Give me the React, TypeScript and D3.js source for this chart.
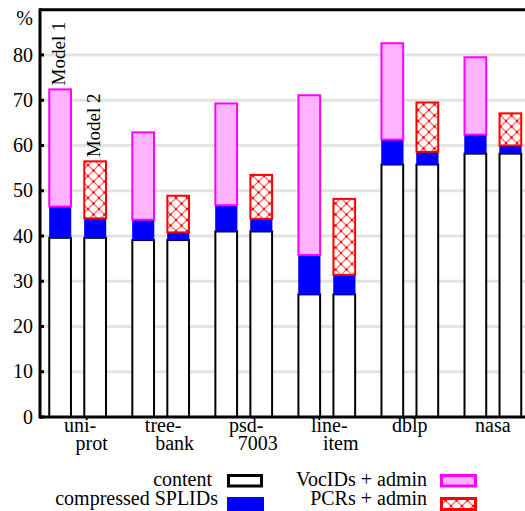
import React from 'react';
import * as d3 from 'd3';

const width = 525;
const height = 511;
const margin = { top: 10, left: 40, bottom: 417 };

const categories = ['uniprot', 'treebank', 'psd7003', 'lineitem', 'dblp', 'nasa'];
const categoryLabels = [['uni-', 'prot'], ['tree-', 'bank'], ['psd-', '7003'], ['line-', 'item'], ['dblp'], ['nasa']];
const models = ['Model 1', 'Model 2'];

// segment heights in %
const content = [39.6, 39.1, 41.0, 27.1, 55.8, 58.2];
const splidsModel1 = [6.9, 4.5, 5.8, 8.7, 5.5, 4.2];
const vocIds = [25.9, 19.3, 22.5, 35.3, 21.3, 17.1];
const splidsModel2 = [4.3, 1.7, 2.8, 4.3, 2.8, 1.8];
const pcrs = [12.6, 8.1, 9.7, 16.8, 10.9, 7.1];

const yTicks = [0, 10, 20, 30, 40, 50, 60, 70, 80];

const font = '"Liberation Serif", "Times New Roman", serif';

const styles = {
  content: { fill: '#ffffff', stroke: '#000000' },
  splids: { fill: '#0000ff', stroke: '#0000ff' },
  vocids: { fill: '#ffb3ff', stroke: '#ff00ff' },
  pcrs: { fill: 'url(#hatch)', stroke: '#ff0000' }
};

const rows1 = categories.map((c, i) => ({ cat: c, content: content[i], splids: splidsModel1[i], top: vocIds[i] }));
const rows2 = categories.map((c, i) => ({ cat: c, content: content[i], splids: splidsModel2[i], top: pcrs[i] }));

export default function App() {
  const x = d3.scaleBand().domain(categories).range([36.1, 534.4]);
  const inner = d3
    .scaleBand()
    .domain(models)
    .range([0, x.bandwidth()])
    .paddingInner(0.38)
    .paddingOuter(0.376);
  const y = d3.scaleLinear().domain([0, 90]).range([margin.bottom, 9.75]);

  const stack = d3.stack().keys(['content', 'splids', 'top']);
  const series = [
    { model: models[0], layers: stack(rows1 as any), topStyle: styles.vocids },
    { model: models[1], layers: stack(rows2 as any), topStyle: styles.pcrs }
  ];
  const layerStyle = (k: string, top: any) => (k === 'content' ? styles.content : k === 'splids' ? styles.splids : top);

  return (
    <svg width={width} height={height} style={{ position: 'absolute', left: 0, top: 0, fontFamily: font }}>
      <defs>
        <pattern id="hatch" patternUnits="userSpaceOnUse" width="11" height="11">
          <rect width="11" height="11" fill="#ffffff" />
          <path d="M0,0L11,11M11,0L0,11" stroke="#ff7070" strokeWidth="1.3" />
          <circle cx="5.5" cy="5.5" r="1.2" fill="#ff0000" />
          <circle cx="0" cy="0" r="1.2" fill="#ff0000" />
          <circle cx="11" cy="0" r="1.2" fill="#ff0000" />
          <circle cx="0" cy="11" r="1.2" fill="#ff0000" />
          <circle cx="11" cy="11" r="1.2" fill="#ff0000" />
        </pattern>
      </defs>

      {yTicks.slice(1).map(t => (
        <line key={'g' + t} x1={margin.left} x2={width} y1={y(t)} y2={y(t)} stroke="#e3e3e3" strokeWidth={3} />
      ))}

      {series.map(s =>
        s.layers.map(layer =>
          layer.map((d: any, i: number) => {
            const st = layerStyle(layer.key, s.topStyle);
            return (
              <rect
                key={s.model + layer.key + i}
                x={x(categories[i])! + inner(s.model)!}
                y={y(d[1])}
                width={inner.bandwidth()}
                height={y(d[0]) - y(d[1])}
                fill={st.fill}
                stroke={st.stroke}
                strokeWidth={layer.key === 'splids' ? 0.5 : 2}
              />
            );
          })
        )
      )}

      {/* model labels over the first group */}
      {series.map(s => {
        const top = s.layers[2][0][1];
        const cx = x(categories[0])! + inner(s.model)! + inner.bandwidth() / 2 + 4.5;
        const by = y(top) - 4;
        return (
          <text key={'m' + s.model} transform={`translate(${cx},${by}) rotate(-90)`} fontSize={19} fill="#000">
            {s.model}
          </text>
        );
      })}

      {/* frame */}
      <line x1={margin.left} x2={width} y1={y(90)} y2={y(90)} stroke="#000" strokeWidth={3} />
      <line x1={margin.left} x2={margin.left} y1={y(90) - 1.5} y2={margin.bottom + 1.5} stroke="#000" strokeWidth={3} />
      <line x1={margin.left} x2={width} y1={margin.bottom} y2={margin.bottom} stroke="#000" strokeWidth={3} />

      {yTicks.map(t => (
        <g key={'t' + t}>
          <line x1={margin.left} x2={margin.left + 4} y1={y(t)} y2={y(t)} stroke="#000" strokeWidth={3} />
          <text x={33} y={y(t)} dy="0.33em" textAnchor="end" fontSize={20}>
            {t}
          </text>
        </g>
      ))}
      <text x={33} y={25} textAnchor="end" fontSize={20}>
        %
      </text>

      {categories.map((c, i) => {
        const cx = x(c)! + x.bandwidth() / 2;
        const lines = categoryLabels[i];
        return (
          <text key={'c' + c} fontSize={20} textAnchor="middle">
            {lines.map((l, j) => (
              <tspan key={j} x={cx + (lines.length > 1 ? (j === 0 ? 2.5 : 14) : 0)} y={432 + j * 18}>
                {l}
              </tspan>
            ))}
          </text>
        );
      })}

      {/* legend */}
      <g fontSize={20}>
        <text x={212} y={486} textAnchor="end">content</text>
        <rect x={228.5} y={475.5} width={33} height={10.5} fill="#fff" stroke="#000" strokeWidth={3} />
        <text x={218} y={505} textAnchor="end">compressed SPLIDs</text>
        <rect x={227} y={497} width={37} height={14} fill="#0000ff" />
        <text x={427} y={486} textAnchor="end">VocIDs + admin</text>
        <rect x={441.5} y={475.5} width={34} height={10.5} fill="#ffb3ff" stroke="#ff00ff" strokeWidth={3} />
        <text x={427} y={505} textAnchor="end">PCRs + admin</text>
        <rect x={441.5} y={498.5} width={34} height={11} fill="url(#hatch)" stroke="#ff0000" strokeWidth={3} />
      </g>
    </svg>
  );
}
